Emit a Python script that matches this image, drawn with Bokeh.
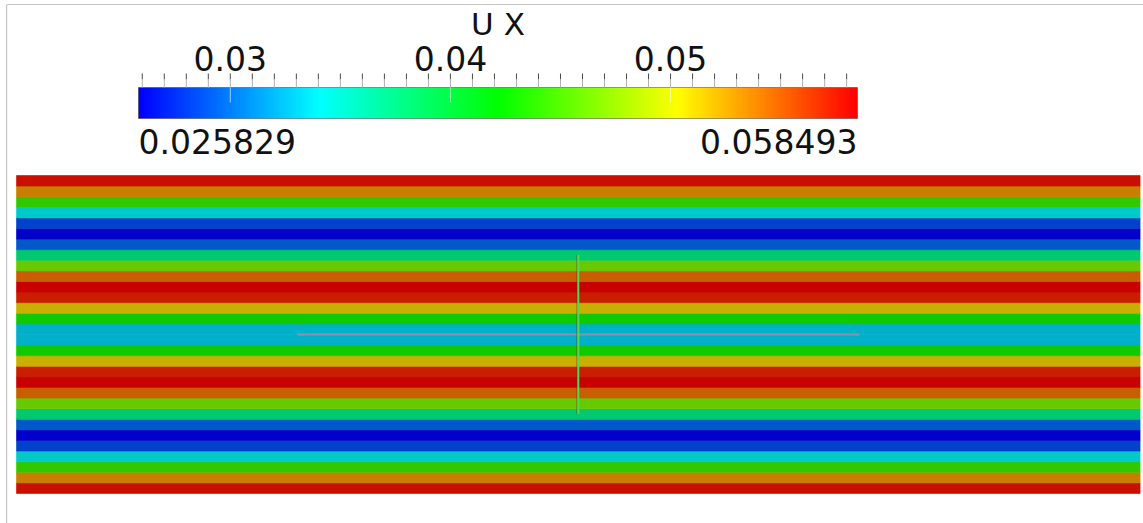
import numpy as np
from bokeh.plotting import figure
from bokeh.models import Range1d, LinearColorMapper, Span, ColumnDataSource
from bokeh.transform import linear_cmap
from bokeh.core.properties import value
from bokeh.embed import file_html
from bokeh.resources import INLINE

# U_x in each mesh row of the channel, listed from bottom wall to top wall
ux_rows = [0.05784, 0.05327, 0.04412, 0.03400, 0.02854, 0.02583, 0.02942, 0.03759, 0.04641, 0.05457,
           0.05849, 0.05719, 0.05131, 0.04281, 0.03302, 0.03302, 0.04281, 0.05131, 0.05719, 0.05849,
           0.05457, 0.04641, 0.03759, 0.02942, 0.02583, 0.02854, 0.03400, 0.04412, 0.05327, 0.05784]
ux_min = 0.025829
ux_max = 0.058493
field_title = "U X"
major_ticks = [0.03, 0.04, 0.05]
major_labels = ["0.03", "0.04", "0.05"]
minor_ticks = [0.026, 0.027, 0.028, 0.029, 0.030, 0.031, 0.032, 0.033, 0.034, 0.035, 0.036,
               0.037, 0.038, 0.039, 0.040, 0.041, 0.042, 0.043, 0.044, 0.045, 0.046, 0.047,
               0.048, 0.049, 0.050, 0.051, 0.052, 0.053, 0.054, 0.055, 0.056, 0.057, 0.058]
channel_length = 106
# probe lines through the channel centre
probe_h_x = [26.5, 79.5]
probe_h_y = [15, 15]
probe_v_x = [53, 53]
probe_v_y = [7.5, 22.5]

# ---- page geometry (pixels) ----
W, H = 1143, 523
S = 10.6            # pixels per mesh unit
DOM_LEFT = 16       # left edge of channel
DOM_BOTTOM = 493    # bottom edge of channel
FRAME_L, FRAME_T = 6, 4
CB_L, CB_R = 138, 857
TXT = 12            # baseline correction for the text glyphs


def py(px):
    """page pixel row -> mesh y"""
    return (DOM_BOTTOM - px) / S


x0 = -(DOM_LEFT - FRAME_L) / S
x1 = x0 + (W - FRAME_L) / S
y0 = -(H - DOM_BOTTOM) / S
y1 = y0 + (H - FRAME_T) / S

du = ux_max - ux_min
u0 = ux_min - (CB_L - FRAME_L) / (CB_R - CB_L) * du
u1 = u0 + (W - FRAME_L) / (CB_R - CB_L) * du

# blue -> cyan -> green -> yellow -> red rainbow
knots = [0.0, 0.25, 0.5, 0.75, 1.0]
kr = [0, 0, 0, 255, 255]
kg = [0, 255, 255, 255, 0]
kb = [255, 255, 0, 0, 0]
t = np.linspace(0, 1, 256)
R, G, B = np.interp(t, knots, kr), np.interp(t, knots, kg), np.interp(t, knots, kb)


def hexes(scale):
    return ["#%02x%02x%02x" % (int(r * scale), int(g * scale), int(b * scale)) for r, g, b in zip(R, G, B)]


bright = hexes(1.0)
shaded = hexes(0.79)   # lit surface appears darker than the legend

p = figure(width=W, height=H, x_range=Range1d(x0, x1), y_range=Range1d(y0, y1),
           output_backend="svg", toolbar_location=None,
           x_axis_location=None, y_axis_location=None,
           min_border_left=FRAME_L, min_border_top=FRAME_T,
           min_border_right=0, min_border_bottom=0)
p.grid.visible = False
p.outline_line_color = None
p.background_fill_color = "white"
p.border_fill_color = "white"
p.extra_x_ranges = {"u": Range1d(u0, u1)}

# frame lines
p.add_layout(Span(location=x0, dimension="height", line_color="#8c8c8c", line_width=1.2))
p.add_layout(Span(location=y1, dimension="width", line_color="#8c8c8c", line_width=1.2))

# channel rows
rows = list(range(len(ux_rows)))
row_src = ColumnDataSource(data={"ux": ux_rows, "bottom": rows, "top": [r + 1 for r in rows]})
cmap = linear_cmap("ux", shaded, ux_min, ux_max)
p.quad(left=0, right=channel_length, bottom="bottom", top="top", source=row_src,
       fill_color=cmap, line_color=cmap, line_width=0.6)

# probe lines
p.line(probe_h_x, probe_h_y, line_color="#8a96a8", line_width=2)
p.line([v - 0.12 for v in probe_v_x], probe_v_y, line_color="#6a2a10", line_width=1, line_alpha=0.6)
p.line(probe_v_x, probe_v_y, line_color="#4fdc4f", line_width=2)

# colour legend bar
bar_bot, bar_top = py(118), py(87)
ramp = np.linspace(ux_min, ux_max, 512).reshape(1, -1)
p.image(image=[ramp], x=ux_min, y=bar_bot, dw=du, dh=bar_top - bar_bot,
        color_mapper=LinearColorMapper(palette=bright, low=ux_min, high=ux_max),
        x_range_name="u")
p.quad(left=[ux_min], right=[ux_max], bottom=[bar_bot], top=[bar_top],
       fill_color=None, line_color="#3a3a3a", line_alpha=0.5, line_width=1,
       x_range_name="u")

# ticks: dark stub above the bar, faint lead down to it
p.segment(x0=minor_ticks, y0=py(73), x1=minor_ticks, y1=py(79),
          line_color="#4a4a4a", line_width=1, x_range_name="u")
p.segment(x0=minor_ticks, y0=py(79), x1=minor_ticks, y1=py(87),
          line_color="#b0b0b0", line_width=1, x_range_name="u")
p.segment(x0=major_ticks, y0=py(87), x1=major_ticks, y1=py(102),
          line_color="white", line_alpha=0.6, line_width=1, x_range_name="u")

font = value("DejaVu Sans")
p.text(x=major_ticks, y=[py(70 - TXT)] * 3, text=major_labels, x_range_name="u",
       text_font=font, text_font_size="33px", text_align="center",
       text_baseline="alphabetic", text_color="#111111")
p.text(x=[(ux_min + ux_max) / 2], y=[py(35 - TXT)], text=[field_title], x_range_name="u",
       text_font=font, text_font_size="31px", text_align="center",
       text_baseline="alphabetic", text_color="#111111")
p.text(x=[ux_min], y=[py(153 - TXT)], text=["%.6f" % ux_min], x_range_name="u",
       text_font=font, text_font_size="33px", text_align="left",
       text_baseline="alphabetic", text_color="#111111")
p.text(x=[ux_max], y=[py(153 - TXT)], text=["%.6f" % ux_max], x_range_name="u",
       text_font=font, text_font_size="33px", text_align="right",
       text_baseline="alphabetic", text_color="#111111")

open("out.html", "w").write(file_html(p, INLINE))
